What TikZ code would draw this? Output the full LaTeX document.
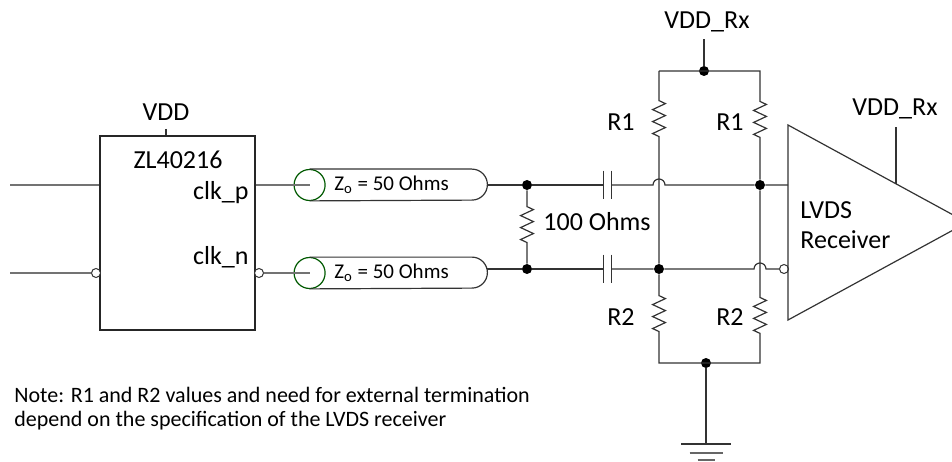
\documentclass[tikz,border=0pt]{standalone}
\usepackage{fontspec}
\setmainfont{Carlito}
\usetikzlibrary{positioning,calc,decorations.pathmorphing}
\tikzset{
    wire/.style={draw=black!80, line width=0.6pt},
    feed/.style={draw=black!55, line width=0.6pt},
    dot/.style={circle, fill=black, inner sep=0pt, minimum size=5pt},
    bubble/.style={circle, draw=black!80, fill=white, line width=0.5pt,
           inner sep=0pt, minimum size=4.5pt},
    chip/.style={rectangle, draw=black!85, line width=0.6pt,
           inner sep=0pt, minimum width=77.5pt, minimum height=97pt},
    lbl/.style={inner sep=0pt, font=\fontsize{13}{15}\selectfont},
    tlbl/.style={inner sep=0pt, font=\fontsize{10.5}{12}\selectfont},
    note/.style={inner sep=0pt, align=left, font=\fontsize{11}{12}\selectfont},
    res/.style={rectangle, inner sep=0pt, minimum width=6pt, minimum height=18pt},
    capbox/.style={rectangle, inner sep=0pt, minimum width=3.5pt, minimum height=14pt},
    zz/.style={decoration={zigzag, segment length=5.99pt, amplitude=3.2pt}},
    tline/.style={rectangle, inner sep=0pt, minimum width=88.5pt, minimum height=15.5pt},
    tcirc/.style={circle, draw=green!35!black, line width=0.6pt,
           inner sep=0pt, minimum size=15.5pt},
}

\begin{document}
\begin{tikzpicture}[x=0.5pt,y=0.5pt]
\useasboundingbox (0,0) rectangle (952,461);
\clip (0,0) rectangle (952,461);

% driver
\node[chip] (zl) at (177.5,228) {};
\node[lbl] (zlname) at (178,301) {ZL40216};
\node[lbl, anchor=east] (clkp) at (249,268) {clk\_p};
\node[lbl, anchor=east] (clkn) at (249,204) {clk\_n};
\node[lbl] (vdd) at (166,349) {VDD};
\coordinate (vddpin) at (166,332);
\coordinate (inp) at (10,276);
\coordinate (inn) at (10,188);
\node[bubble] (inbub) at (96,188) {};
\node[bubble] (outbub) at (259,188) {};

% transmission lines
\node[tline, label={[tlbl, xshift=-3.5pt]center:{Z\textsubscript{o} = 50 Ohms}}] (tlp) at (398.5,276) {};
\node[tline, label={[tlbl, xshift=-3.5pt]center:{Z\textsubscript{o} = 50 Ohms}}] (tln) at (398.5,188) {};
\node[tcirc] (tcp) at (tlp.west) {};
\node[tcirc] (tcn) at (tln.west) {};

% termination
\node[dot] (j1) at (527,276) {};
\node[dot] (j2) at (527,192) {};
\node[res] (r100) at (527,236) {};
\node[lbl, anchor=west] (r100lbl) at (543,239) {100 Ohms};
\node[capbox] (c1) at (607.5,276) {};
\node[capbox] (c2) at (607.5,192) {};

% bias network
\node[dot] (rail) at (704,390) {};
\node[lbl] (vddrx) at (707,439) {VDD\_Rx};
\coordinate (vddrxpin) at (704,422);
\coordinate (ltop) at (659,390);
\coordinate (rtop) at (760,390);
\coordinate (lbot) at (659,98);
\coordinate (rbot) at (760,98);
\node[res] (r1a) at (659,342) {};
\node[res] (r1b) at (760,342) {};
\node[res] (r2a) at (659,147) {};
\node[res] (r2b) at (760,146) {};
\node[lbl] (r1alb) at (621,339) {R1};
\node[lbl] (r1blb) at (730,339) {R1};
\node[lbl] (r2alb) at (621,144) {R2};
\node[lbl] (r2blb) at (730,144) {R2};
\node[dot] (j3) at (760,276) {};
\node[dot] (j4) at (659,192) {};
\node[dot] (gnd) at (706,98) {};
\coordinate (earth) at (706,17);
\coordinate (hop1) at (653,276);
\coordinate (hop2) at (754,192);

% receiver
\coordinate (rxt) at (788,336);
\coordinate (rxb) at (788,141);
\coordinate (rxo) at (967,238.5);
\coordinate (rxvdd) at ($(rxt)!0.6034!(rxo)$);
\coordinate (rxpin) at (896,334);
\node[bubble] (rxbub) at (784,192) {};
\node[lbl, align=left, anchor=west] (rxname) at (800,236) {LVDS\\Receiver};
\node[lbl] (vddrx2) at (895,352) {VDD\_Rx};

\node[note, anchor=west] (nb) at (14,52)
 {Note: R1 and R2 values and need for external termination\\
  depend on the specification of the LVDS receiver};

% wires
\draw[feed] (inp) -- (inp -| zl.west);
\draw[feed] (inn) -- (inbub.west);
\draw[feed] (inp -| zl.east) -- (tcp.center);
\draw[feed] (outbub.east) -- (tcn.center);
\draw[wire] (vddpin) -- (vddpin |- zl.north);

\draw[wire] (tlp.north west) -- ([xshift=-7.75pt]tlp.north east)
  arc[start angle=90, end angle=-90, radius=7.75pt] -- (tlp.south west);
\draw[wire] (tln.north west) -- ([xshift=-7.75pt]tln.north east)
  arc[start angle=90, end angle=-90, radius=7.75pt] -- (tln.south west);

\draw[wire] (tlp.east) -- (j1) -- (c1.west);
\draw[wire] (tln.east |- j2) -- (j2) -- (c2.west);
\draw[wire, zz] (j1) -- (r100.north) decorate {-- (r100.south)} -- (j2);
\draw[wire] (c1.north west) -- (c1.south west) (c1.north east) -- (c1.south east)
            (c2.north west) -- (c2.south west) (c2.north east) -- (c2.south east);
\draw[wire] (c1.east) -- (hop1) arc[start angle=180, end angle=0, radius=3pt]
  -- (j3) -- (j3 -| rxt);
\draw[wire] (c2.east) -- (j4) -- (hop2) arc[start angle=180, end angle=0, radius=3pt]
  -- (rxbub.west);

\draw[wire, zz] (ltop) -- (r1a.north) decorate {-- (r1a.south)} -- (j4)
  -- (r2a.north) decorate {-- (r2a.south)} -- (lbot) -- (rbot)
  -- (r2b.south) decorate {-- (r2b.north)} -- (j3)
  -- (r1b.south) decorate {-- (r1b.north)} -- (rtop) -- (ltop);
\draw[wire] (rail) -- (vddrxpin);
\draw[wire] (gnd) -- (earth);
\draw[wire] ([xshift=-12.5pt]earth) -- ([xshift=12.5pt]earth);
\draw[wire, black!60] ([shift={(-16.5,-9)}]earth) -- ([shift={(16.5,-9)}]earth);
\draw[wire, black!60] ([shift={(-8.5,-16)}]earth) -- ([shift={(8.5,-16)}]earth);

\draw[wire] (rxt) -- (rxo) -- (rxb) -- cycle;
\draw[wire] (rxvdd) -- (rxvdd |- rxpin);

\end{tikzpicture}
\end{document}
